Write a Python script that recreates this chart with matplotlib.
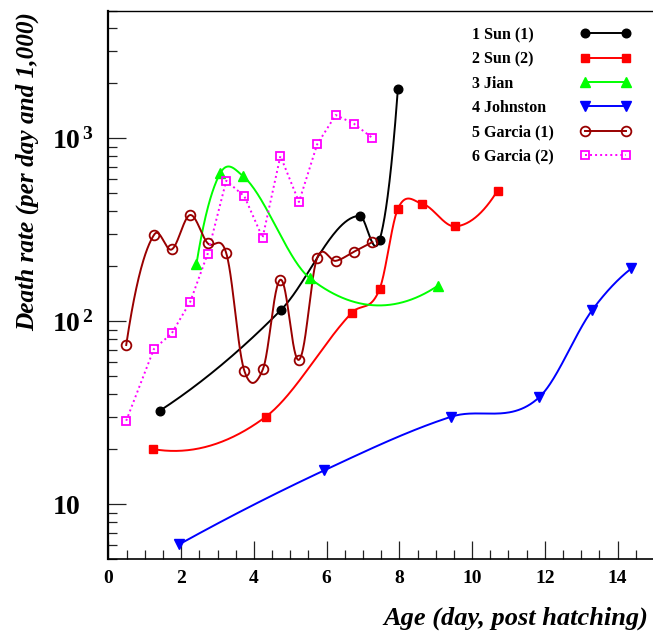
import numpy as np
import matplotlib
matplotlib.use("Agg")
import matplotlib.pyplot as plt
from matplotlib.ticker import FixedLocator, LogLocator, NullFormatter, MultipleLocator

plt.rcParams['font.family'] = ['Liberation Serif', 'DejaVu Serif']
plt.rcParams['mathtext.fontset'] = 'custom'
plt.rcParams['mathtext.rm'] = 'Liberation Serif:bold'
plt.rcParams['mathtext.bf'] = 'Liberation Serif:bold'
plt.rcParams['mathtext.it'] = 'Liberation Serif:bold:italic'

# ---- data ----
sun1_x = [1.42, 4.75, 6.91, 7.46, 7.96]
sun1_y = [32.5, 115.6, 377, 279, 1870]

sun2_x = [1.24, 4.33, 6.70, 7.46, 7.96, 8.63, 9.54, 10.70]
sun2_y = [20.0, 30.1, 111.7, 150.6, 412, 439, 330, 518]

jian_x = [2.42, 3.08, 3.69, 5.54, 9.05]
jian_y = [205, 647, 625, 172, 156]

john_x = [1.95, 5.93, 9.43, 11.85, 13.31, 14.38]
john_y = [6.04, 15.3, 30.1, 38.5, 115.6, 194.5]

garc1_x = [0.49, 1.26, 1.74, 2.25, 2.73, 3.24, 3.74, 4.25, 4.73, 5.24, 5.74, 6.25, 6.75, 7.26]
garc1_y = [74.2, 298, 247, 381, 267, 236, 53.5, 54.8, 168.7, 61.6, 222, 214, 240, 271]

garc2_x = [0.49, 1.25, 1.74, 2.25, 2.73, 3.24, 3.74, 4.24, 4.73, 5.24, 5.74, 6.25, 6.75, 7.26]
garc2_y = [28.6, 70.5, 85.8, 127.8, 234, 587, 482, 286, 801, 449, 927, 1342, 1203, 1005]

labels = ["1 Sun (1)", "2 Sun (2)", "3 Jian", "4 Johnston", "5 Garcia (1)", "6 Garcia (2)"]
xticks = [0, 2, 4, 6, 8, 10, 12, 14]
yticks = [10, 100, 1000]
ytick_labels = [r"$10$", r"$10^{\,2}$", r"$10^{\,3}$"]

W, H = 653, 635
fig = plt.figure(figsize=(W / 100, H / 100), dpi=100)
ax = fig.add_axes([108.4 / W, (H - 559.3) / H, 545.5 / W, 548.8 / H])
ax.set_yscale('log')
ax.set_xlim(0, 15)
ax.set_ylim(5, 5000)


def smooth(xs, ys, n=60):
    """Smooth curve through the points (ROOT-like 'C' option):
    x scaled to 0..20, log10(y) scaled to 0..1, tangents along the bisector
    of neighbouring chords, cubic segments in the chord-rotated frame."""
    xs = np.asarray(xs, float)
    ly = np.log10(np.asarray(ys, float))
    sx = 20.0 / (xs.max() - xs.min())
    sy = 1.0 / (ly.max() - ly.min())
    X = (xs - xs.min()) * sx
    Y = (ly - ly.min()) * sy
    dX, dY = np.diff(X), np.diff(Y)
    chord = np.arctan2(dY, dX)
    L = np.hypot(dX, dY)
    N = len(X)
    tang = np.zeros(N)
    for i in range(1, N - 1):
        u = np.array([np.cos(chord[i - 1]) + np.cos(chord[i]),
                      np.sin(chord[i - 1]) + np.sin(chord[i])])
        tang[i] = np.arctan2(u[1], u[0])
    # parabolic end conditions
    tang[0] = chord[0] - (tang[1] - chord[0]) if N > 2 else chord[0]
    tang[-1] = chord[-1] - (tang[-2] - chord[-1]) if N > 2 else chord[-1]
    px, py = [], []
    s = np.linspace(0, 1, n)
    for i in range(N - 1):
        a0 = np.clip(tang[i] - chord[i], -1.3, 1.3)
        a1 = np.clip(tang[i + 1] - chord[i], -1.3, 1.3)
        u = s * L[i]
        v = L[i] * (np.tan(a0) * s * (1 - s) ** 2 - np.tan(a1) * s ** 2 * (1 - s))
        c, sn = np.cos(chord[i]), np.sin(chord[i])
        gx = X[i] + u * c - v * sn
        gy = Y[i] + u * sn + v * c
        if i > 0:
            gx, gy = gx[1:], gy[1:]
        px.append(gx)
        py.append(gy)
    gx = np.concatenate(px) / sx + xs.min()
    gy = 10 ** (np.concatenate(py) / sy + ly.min())
    return gx, gy


lw = 1.4
series = [
    (sun1_x, sun1_y, dict(color='black', marker='o', ms=6.2, mfc='black', mec='black', ls='-'), True),
    (sun2_x, sun2_y, dict(color='#ff0000', marker='s', ms=6.2, mfc='#ff0000', mec='#ff0000', ls='-'), True),
    (jian_x, jian_y, dict(color='#00ff00', marker='^', ms=6.8, mfc='#00ff00', mec='#00ff00', ls='-'), True),
    (john_x, john_y, dict(color='#0000ff', marker='v', ms=6.8, mfc='#0000ff', mec='#0000ff', ls='-'), True),
    (garc1_x, garc1_y, dict(color='#990000', marker='o', ms=7.0, mfc='none', mec='#990000', mew=1.3, ls='-'), True),
    (garc2_x, garc2_y, dict(color='#ff00ff', marker='s', ms=6.3, mfc='none', mec='#ff00ff', mew=1.3, ls=(0, (1, 1.6))), False),
]

handles = []
for (xs, ys, st, sm), lab in zip(series, labels):
    if sm:
        cx, cy = smooth(xs, ys)
        ax.plot(cx, cy, color=st['color'], lw=lw, ls=st['ls'], zorder=2)
    else:
        ax.plot(xs, ys, color=st['color'], lw=lw, ls=st['ls'], zorder=2)
    ax.plot(xs, ys, ls='none', marker=st['marker'], ms=st['ms'], mfc=st['mfc'],
            mec=st['mec'], mew=st.get('mew', 1.0), zorder=3)
    h, = ax.plot([], [], color=st['color'], lw=lw, ls=st['ls'], marker=st['marker'],
                 ms=st['ms'], mfc=st['mfc'], mec=st['mec'], mew=st.get('mew', 1.0), label=lab)
    handles.append(h)

# ---- axes styling ----
ax.spines['right'].set_visible(False)
ax.spines['left'].set_linewidth(1.6)
ax.spines['bottom'].set_linewidth(1.2)
ax.spines['top'].set_linewidth(1.0)

ax.xaxis.set_major_locator(FixedLocator(xticks))
ax.xaxis.set_minor_locator(MultipleLocator(0.5))
ax.set_xticklabels([str(v) for v in xticks], fontsize=14, fontweight='bold')
ax.yaxis.set_major_locator(FixedLocator(yticks))
ax.yaxis.set_minor_locator(LogLocator(base=10, subs=np.arange(2, 10)))
ax.yaxis.set_minor_formatter(NullFormatter())
ax.set_yticklabels(ytick_labels, fontsize=20)
for t in ax.get_yticklabels():
    t.set_horizontalalignment('left')

ax.tick_params(axis='both', which='major', direction='in', length=13, width=0.9, color='#222222')
ax.tick_params(axis='both', which='minor', direction='in', length=6.5, width=0.9, color='#222222')
ax.tick_params(axis='x', which='major', pad=8)
ax.tick_params(axis='y', which='major', pad=40.6)
ax.tick_params(top=False, right=False, which='both')

ax.set_ylabel("Death rate (per day and 1,000)", fontsize=18.2, fontweight='bold',
              fontstyle='italic', loc='top')
ax.yaxis.set_label_coords(-0.127, 0.997)
ax.set_xlabel("Age (day, post hatching)", fontsize=19, fontweight='bold',
              fontstyle='italic', loc='right')
ax.xaxis.set_label_coords(0.990, -0.087)

fs = 11.5
leg = ax.legend(handles=handles, loc='upper left', bbox_to_anchor=(471.7 / W, 1 - 27 / H),
                bbox_transform=fig.transFigure, frameon=False, markerfirst=False,
                numpoints=2, handlelength=3.21, handletextpad=1.64, labelspacing=0.52,
                borderpad=0, borderaxespad=0, prop=dict(family='Liberation Serif', weight='bold', size=fs))

# align legend texts to the left while keeping the samples in one column
fig.canvas.draw()
r = fig.canvas.get_renderer()
texts = leg.get_texts()
widths = [t.get_window_extent(r).width for t in texts]
mw = max(widths)
rows = leg._legend_handle_box.get_children()[0].get_children()
p2px = r.points_to_pixels(1.0)
for row, w in zip(rows, widths):
    row.sep = row.sep + (mw - w) / p2px

fig.savefig("out.png", dpi=100)
